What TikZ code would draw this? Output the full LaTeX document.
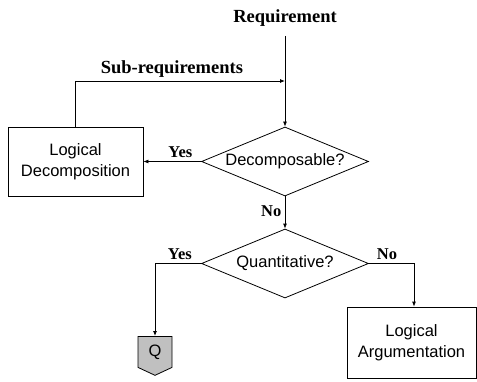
\documentclass[tikz,border=0pt]{standalone}
\usepackage{fontspec}
\setmainfont{Liberation Serif}
\setsansfont{Liberation Sans}
\usetikzlibrary{shapes.geometric,shapes.symbols,arrows.meta}
\definecolor{qgray}{RGB}{192,192,192}

\begin{document}
\begin{tikzpicture}[x=1pt,y=1pt,line width=0.8pt,
    box/.style={draw,rectangle,align=center,inner sep=2pt,font=\sffamily\fontsize{16.5}{21}\selectfont},
    decision/.style={draw,diamond,aspect=2.42,inner sep=0pt,minimum width=167pt,minimum height=69pt,font=\sffamily\fontsize{16.5}{20}\selectfont},
    lbl/.style={font=\bfseries\fontsize{16.5}{20}\selectfont},
    biglbl/.style={font=\bfseries\fontsize{18.5}{22}\selectfont},
    arr/.style={-{Latex[length=5pt,width=4pt]}}]
      \useasboundingbox (0,0) rectangle (477,381);

      % entry
      \node[biglbl] (req) at (285,363) {Requirement};
      \coordinate (reqend) at (285,345);
      \coordinate (join) at (285,300);

      % blocks
      \node[decision] (dec) at (285,219.5) {Decomposable?};
      \node[box,minimum width=135pt,minimum height=69pt] (ld) at (75.5,219.5) {Logical\\Decomposition};
      \node[decision] (quant) at (285,117.5) {Quantitative?};
      \node[box,minimum width=129pt,minimum height=71pt] (la) at (411.5,38.5) {Logical\\Argumentation};
      \node[draw,fill=qgray,signal,signal to=south,signal pointer angle=130,
            minimum width=34pt,minimum height=34pt,inner sep=0pt,anchor=north,
            font=\sffamily\fontsize{16.5}{20}\selectfont] (q) at (155,45) {Q};

      % connectors
      \draw[arr] (reqend) -- (dec.north);
      \draw[arr] (ld.north) |- node[biglbl,above,pos=0.73] (sub) {Sub-requirements} (join);
      \draw[arr] (dec.west) -- node[lbl,above,pos=0.36] (yes1) {Yes} (ld.east);
      \draw[arr] (dec.south) -- node[lbl,left,pos=0.45] (no1) {No} (quant.north);
      \draw[arr] (quant.west) -| node[lbl,above,pos=0.23] (yes2) {Yes} (q.north);
      \draw[arr] (quant.east) -| node[lbl,above,pos=0.2] (no2) {No} ([xshift=2.5pt]la.north);

    \end{tikzpicture}
\end{document}
